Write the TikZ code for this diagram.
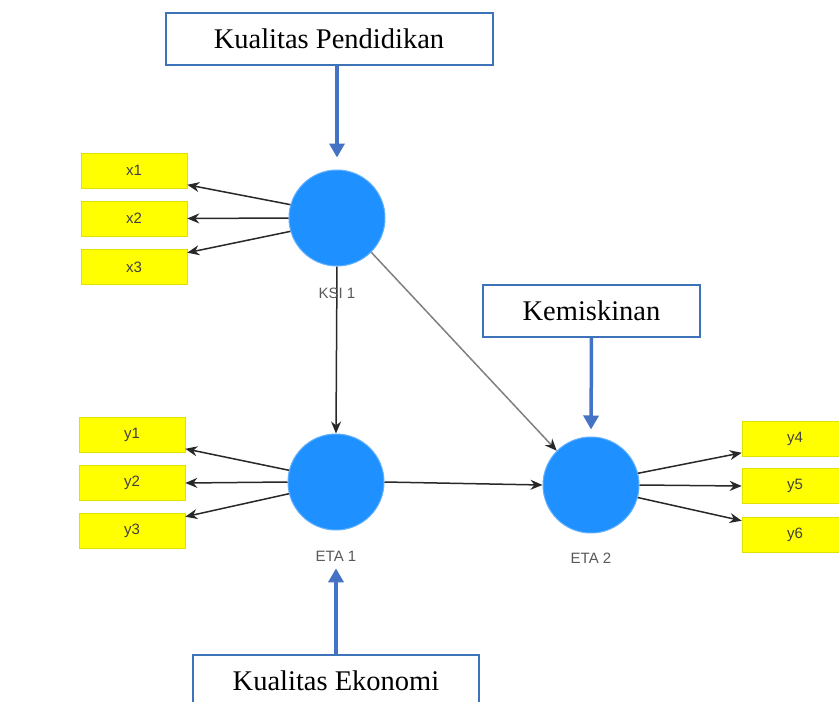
\documentclass[tikz,border=0pt]{standalone}
\usepackage{fontspec}
\setmainfont{Liberation Serif}
\newfontfamily\labfont{Liberation Sans}
\usetikzlibrary{arrows.meta}
\definecolor{annblue}{RGB}{68,114,196}
\definecolor{boxblue}{RGB}{60,115,185}
\definecolor{latfill}{RGB}{30,144,255}
\definecolor{indfill}{RGB}{255,255,0}
\definecolor{inddraw}{RGB}{225,225,0}
\definecolor{pathcol}{RGB}{40,40,40}
\tikzset{
  latent/.style={circle, fill=latfill, draw=latfill!70!white, line width=1pt, minimum size=96pt, inner sep=0pt},
  indic/.style={rectangle, fill=indfill, draw=inddraw, line width=0.6pt, minimum width=106pt, minimum height=35pt, inner sep=0pt, font=\labfont\fontsize{15}{17}\selectfont, text=black!75},
  latlab/.style={font=\labfont\fontsize{15}{17}\selectfont, text=black!65, inner sep=1pt},
  annbox/.style={rectangle, draw=boxblue, line width=2pt, fill=white, inner sep=0pt, font=\fontsize{28.5}{30}\selectfont},
  annarr/.style={draw=annblue, line width=3.5pt, -{Triangle[width=15pt,length=14pt]}},
  patharr/.style={draw=pathcol, line width=1.5pt, -{Stealth[length=12pt,width=10pt]}},
  grayarr/.style={draw=black!50, line width=1.5pt, -{Stealth[length=12pt,width=10pt,color=pathcol]}}
}
\begin{document}
\begin{tikzpicture}[x=1pt,y=-1pt]
\useasboundingbox (0,0) rectangle (839,702);
\clip (0,0) rectangle (839,702);
\fill[white] (0,0) rectangle (839,702);
% latent variables
\node[latent] (ksi) at (337,218) {};
\node[latent] (eta1) at (336,482) {};
\node[latent] (eta2) at (591,485) {};
% indicators
\node[indic] (x1) at (134,170.5) {x1};
\node[indic] (x2) at (134,218.5) {x2};
\node[indic] (x3) at (134,267) {x3};
\node[indic] (y1) at (132,434.5) {y1};
\node[indic] (y2) at (132,483) {y2};
\node[indic] (y3) at (132,531) {y3};
\node[indic] (y4) at (795,438.5) {y4};
\node[indic] (y5) at (795,486) {y5};
\node[indic] (y6) at (795,535) {y6};
% paths
\draw[patharr] (ksi.south) -- (eta1.north);
\node[latlab] (ksilab) at (337,293) {KSI 1};
\node[latlab] (eta1lab) at (336,556) {ETA 1};
\node[latlab] (eta2lab) at (591,558) {ETA 2};
\draw[patharr] (ksi.164) -- (x1.-15);
\draw[patharr] (ksi.west) -- (x2.east);
\draw[patharr] (ksi.196) -- (x3.15);
\draw[patharr] (eta1.166) -- (y1.-15);
\draw[patharr] (eta1.west) -- (y2.east);
\draw[patharr] (eta1.194) -- (y3.15);
\draw[patharr] (eta2.14) -- (y4.195);
\draw[patharr] (eta2.east) -- (y5.west);
\draw[patharr] (eta2.-15) -- (y6.165);
\draw[patharr] (eta1.east) -- (eta2.west);
\draw[grayarr] (ksi.-45) -- (eta2.135);
% annotation boxes
\node[annbox, minimum width=327pt, minimum height=52pt] (kp) at (329,39) {Kualitas Pendidikan};
\node[annbox, minimum width=217pt, minimum height=52pt] (km) at (591.5,310.5) {Kemiskinan};
\node[annbox, minimum width=286pt, minimum height=52pt] (ke) at (336,681) {Kualitas Ekonomi};
\draw[annarr, shorten >=12pt] (kp.south -| ksi) -- (ksi.north);
\draw[annarr, shorten >=7pt] (km.south) -- (eta2.north);
\draw[annarr, shorten >=6pt] (ke.north -| eta1) -- (eta1lab.south);
\end{tikzpicture}
\end{document}
